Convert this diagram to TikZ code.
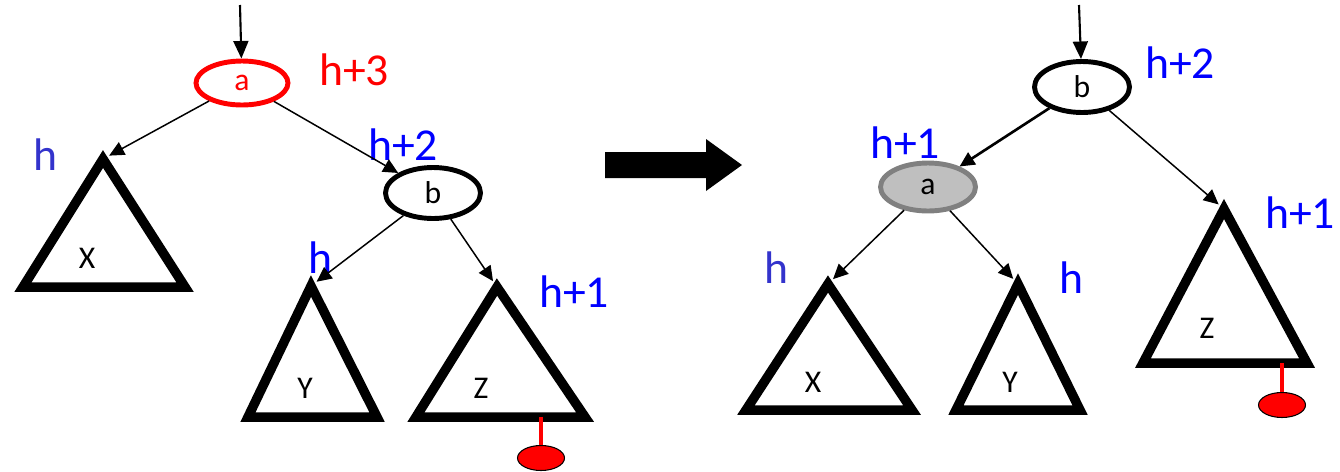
\documentclass[tikz,border=0pt]{standalone}
\usepackage{fontspec}
\setmainfont{Carlito}
\usetikzlibrary{shapes.geometric, arrows.meta}
\definecolor{avlred}{RGB}{255,0,0}
\definecolor{avlblue}{RGB}{0,0,255}
\definecolor{avlpurple}{RGB}{51,51,204}
\definecolor{avlgrey}{RGB}{191,191,191}
\definecolor{avlgreyline}{RGB}{128,128,128}
\tikzset{
  keynode/.style={ellipse, draw=black, line width=2.8pt, inner sep=0pt,
    minimum width=1.9cm, minimum height=1.02cm, font=\fontsize{18}{20}\selectfont},
  hotnode/.style={keynode, draw=avlred, text=avlred, minimum width=1.84cm, minimum height=0.88cm},
  rotnode/.style={keynode, draw=avlgreyline, fill=avlgrey, minimum height=0.96cm},
  subtree/.style={line width=5.4pt, line join=miter},
  treename/.style={inner sep=0pt, font=\fontsize{18}{20}\selectfont},
  heightlabel/.style={inner sep=0pt, font=\fontsize{26}{30}\selectfont, text=avlblue},
  newleaf/.style={ellipse, draw=black, line width=0.6pt, fill=avlred, inner sep=0pt,
    minimum width=0.94cm, minimum height=0.5cm},
  leafstem/.style={draw=avlred, line width=2.6pt},
  arrow/.style={-{Triangle[length=8.5pt,width=8pt]}, line width=0.85pt},
  thickarrow/.style={arrow, line width=1.5pt},
  inarrow/.style={-{Triangle[length=10pt,width=8.5pt]}, line width=1.2pt}
}

\begin{document}
\begin{tikzpicture}[x=0.02cm, y=-0.02cm]
  \useasboundingbox (0,0) rectangle (1340,471);

  % before the rotation
  \coordinate (inL) at (240,5);
  \node[hotnode] (aL) at (242,83) {a};
  \node[keynode] (bL) at (433,193) {b};
  \coordinate (XtopL) at (103,159);
  \coordinate (YtopL) at (311,286);
  \coordinate (ZtopL) at (497,287);
  \coordinate (ZbotL) at (541,417);
  \draw[subtree] (XtopL) -- (23,287) -- (185,287) -- cycle;
  \draw[subtree] (YtopL) -- (248,417) -- (377,417) -- cycle;
  \draw[subtree] (ZtopL) -- (416,417) -- (585,417) -- cycle;
  \node[treename] (XL) at (87,258) {X};
  \node[treename] (YL) at (305,388) {Y};
  \node[treename] (ZL) at (481,388) {Z};
  \node[newleaf] (leafL) at (541,458) {};
  \draw[leafstem] (ZbotL) -- (leafL);

  \node[heightlabel, text=avlred] (haL) at (354,70) {h+3};
  \node[heightlabel, text=avlpurple] (hXL) at (45,155) {h};
  \node[heightlabel] (hbL) at (403,145) {h+2};
  \node[heightlabel] (hYL) at (320,258) {h};
  \node[heightlabel] (hZL) at (574,292) {h+1};

  \draw[inarrow] (inL) -- (aL);
  \draw[arrow, shorten >=4pt] (aL) -- (XtopL);
  \draw[arrow] (aL) -- (bL);
  \draw[arrow, shorten >=4pt] (bL) -- (YtopL);
  \draw[arrow, shorten >=4pt] (bL) -- (ZtopL);

  % rotation
  \fill (605,152) -- (706,152) -- (706,139) -- (742,165) -- (706,191)
        -- (706,178) -- (605,178) -- cycle;

  % after the rotation
  \coordinate (inR) at (1079,5);
  \node[keynode] (bR) at (1082,87) {b};
  \node[rotnode] (aR) at (928,187) {a};
  \coordinate (XtopR) at (828,284);
  \coordinate (YtopR) at (1018,284);
  \coordinate (ZtopR) at (1224,209);
  \coordinate (ZbotR) at (1282,363);
  \draw[subtree] (XtopR) -- (746,410) -- (912,410) -- cycle;
  \draw[subtree] (YtopR) -- (956,410) -- (1080,410) -- cycle;
  \draw[subtree] (ZtopR) -- (1143,363) -- (1307,363) -- cycle;
  \node[treename] (XR) at (813,382) {X};
  \node[treename] (YR) at (1010,382) {Y};
  \node[treename] (ZR) at (1207,328) {Z};
  \node[newleaf] (leafR) at (1282,405) {};
  \draw[leafstem] (ZbotR) -- (leafR);

  \node[heightlabel] (hbR) at (1180,63) {h+2};
  \node[heightlabel] (haR) at (905,143) {h+1};
  \node[heightlabel] (hZR) at (1300,213) {h+1};
  \node[heightlabel, text=avlpurple] (hXR) at (776,268) {h};
  \node[heightlabel] (hYR) at (1071,278) {h};

  \draw[inarrow] (inR) -- (bR);
  \draw[thickarrow] (bR) -- (aR);
  \draw[arrow, shorten >=4pt] (bR) -- (ZtopR);
  \draw[arrow, shorten >=4pt] (aR) -- (XtopR);
  \draw[arrow, shorten >=4pt] (aR) -- (YtopR);
\end{tikzpicture}
\end{document}
